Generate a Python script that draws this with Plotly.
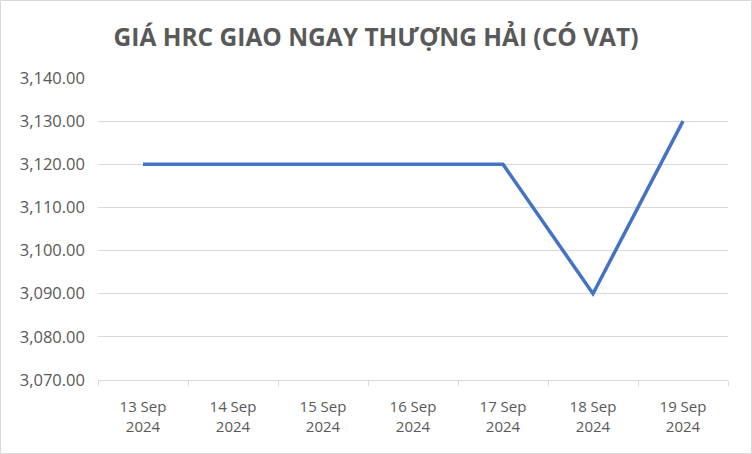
import plotly.graph_objects as go

dates = ["13 Sep<br>2024", "14 Sep<br>2024", "15 Sep<br>2024", "16 Sep<br>2024",
         "17 Sep<br>2024", "18 Sep<br>2024", "19 Sep<br>2024"]
prices = [3120, 3120, 3120, 3120, 3120, 3090, 3130]
y_ticks = [3070, 3080, 3090, 3100, 3110, 3120, 3130, 3140]

W, H = 752, 454
L, R, T, B = 98, 24, 78, 74
pw, ph = W - L - R, H - T - B

fig = go.Figure()
fig.add_trace(
    go.Scatter(
        x=dates,
        y=prices,
        mode="lines",
        line=dict(color="#4472C4", width=3.5),
    )
)

fig.update_layout(
    width=W,
    height=H,
    margin=dict(l=L, r=R, t=T, b=B),
    paper_bgcolor="white",
    plot_bgcolor="white",
    showlegend=False,
    font=dict(family="Open Sans, sans-serif", color="#595959", size=15),
    title=dict(
        text="<b>GIÁ HRC GIAO NGAY THƯỢNG HẢI (CÓ VAT)</b>",
        x=0.5,
        xanchor="center",
        y=1 - 37 / H,
        yanchor="middle",
        font=dict(size=24.5, color="#595959"),
    ),
    xaxis=dict(
        type="category",
        range=[-0.5, 6.5],
        showgrid=False,
        showline=True,
        linecolor="#D9D9D9",
        linewidth=1,
        ticks="outside",
        tickson="boundaries",
        ticklen=5,
        tickcolor="#D9D9D9",
        ticklabelstandoff=13,
        tickfont=dict(size=15),
    ),
    yaxis=dict(
        range=[3070, 3140],
        tickvals=y_ticks,
        tickformat=",.2f",
        showgrid=True,
        gridcolor="#D9D9D9",
        gridwidth=1,
        zeroline=False,
        showline=False,
        ticks="",
        ticklabelstandoff=12,
        tickfont=dict(size=16.5),
    ),
    shapes=[
        dict(
            type="rect",
            xref="paper",
            yref="paper",
            x0=-L / pw + 0.5 / pw,
            x1=1 + R / pw - 0.5 / pw,
            y0=-B / ph + 0.5 / ph,
            y1=1 + T / ph - 0.5 / ph,
            line=dict(color="#D9D9D9", width=1),
            layer="below",
        )
    ],
)

fig.write_html(
    "out.html",
    config={"displayModeBar": False},
    post_script="document.body.style.margin='0';",
)
